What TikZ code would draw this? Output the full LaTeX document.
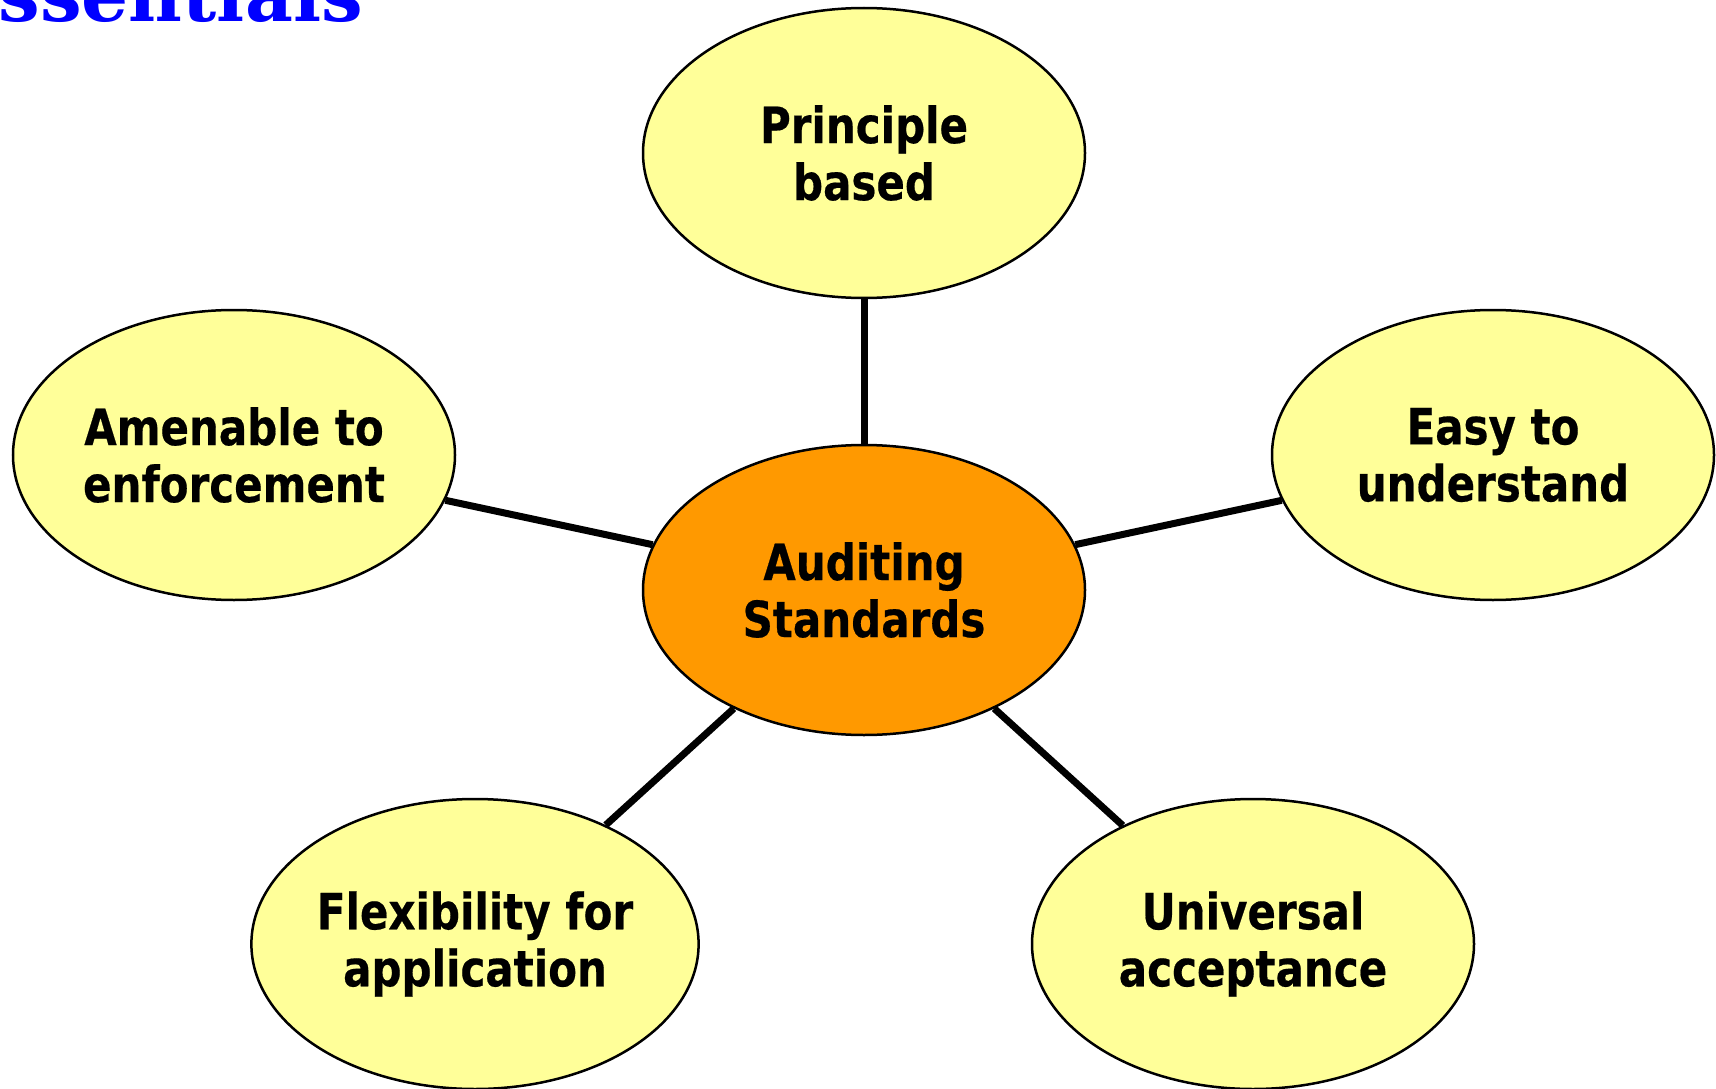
\documentclass[tikz,border=0pt]{standalone}
\usepackage{fontspec}
\setmainfont{DejaVu Sans}[BoldFont={DejaVu Sans Bold}, BoldFeatures={FakeStretch=0.84,FakeBold=0.4}]
\newfontfamily\titlefont{DejaVu Serif Bold}
\usetikzlibrary{shapes.geometric}
\definecolor{pale}{HTML}{FFFF99}
\definecolor{orng}{HTML}{FF9900}
\definecolor{ttlblue}{HTML}{0000FF}
\tikzset{
  bubble/.style={ellipse, draw=black, line width=2.5pt, fill=pale,
    minimum width=442pt, minimum height=290pt, inner sep=0pt,
    align=center, font=\fontsize{50}{57}\selectfont\bfseries},
  hub/.style={bubble, fill=orng},
  spoke/.style={line width=7pt}
}
\begin{document}
\begin{tikzpicture}[x=1pt,y=-1pt]
\useasboundingbox (0,0) rectangle (1716,1089);
\clip (0,0) rectangle (1716,1089);
\node[anchor=base east, text=ttlblue, font=\titlefont\fontsize{74}{80}\selectfont, inner sep=0pt] (title) at (363,22) {Essentials};
\node[hub] (c) at (864,590) {Auditing\\Standards};
\node[bubble] (t) at (864,153) {Principle\\based};
\node[bubble] (l) at (234,455) {Amenable to\\enforcement};
\node[bubble] (r) at (1493,455) {Easy to\\understand};
\node[bubble] (bl) at (475,944) {Flexibility for\\application};
\node[bubble] (br) at (1253,944) {Universal\\acceptance};
\draw[spoke] (c) -- (t);
\draw[spoke] (c) -- (l);
\draw[spoke] (c) -- (r);
\draw[spoke] (c) -- (bl);
\draw[spoke] (c) -- (br);
\end{tikzpicture}
\end{document}
